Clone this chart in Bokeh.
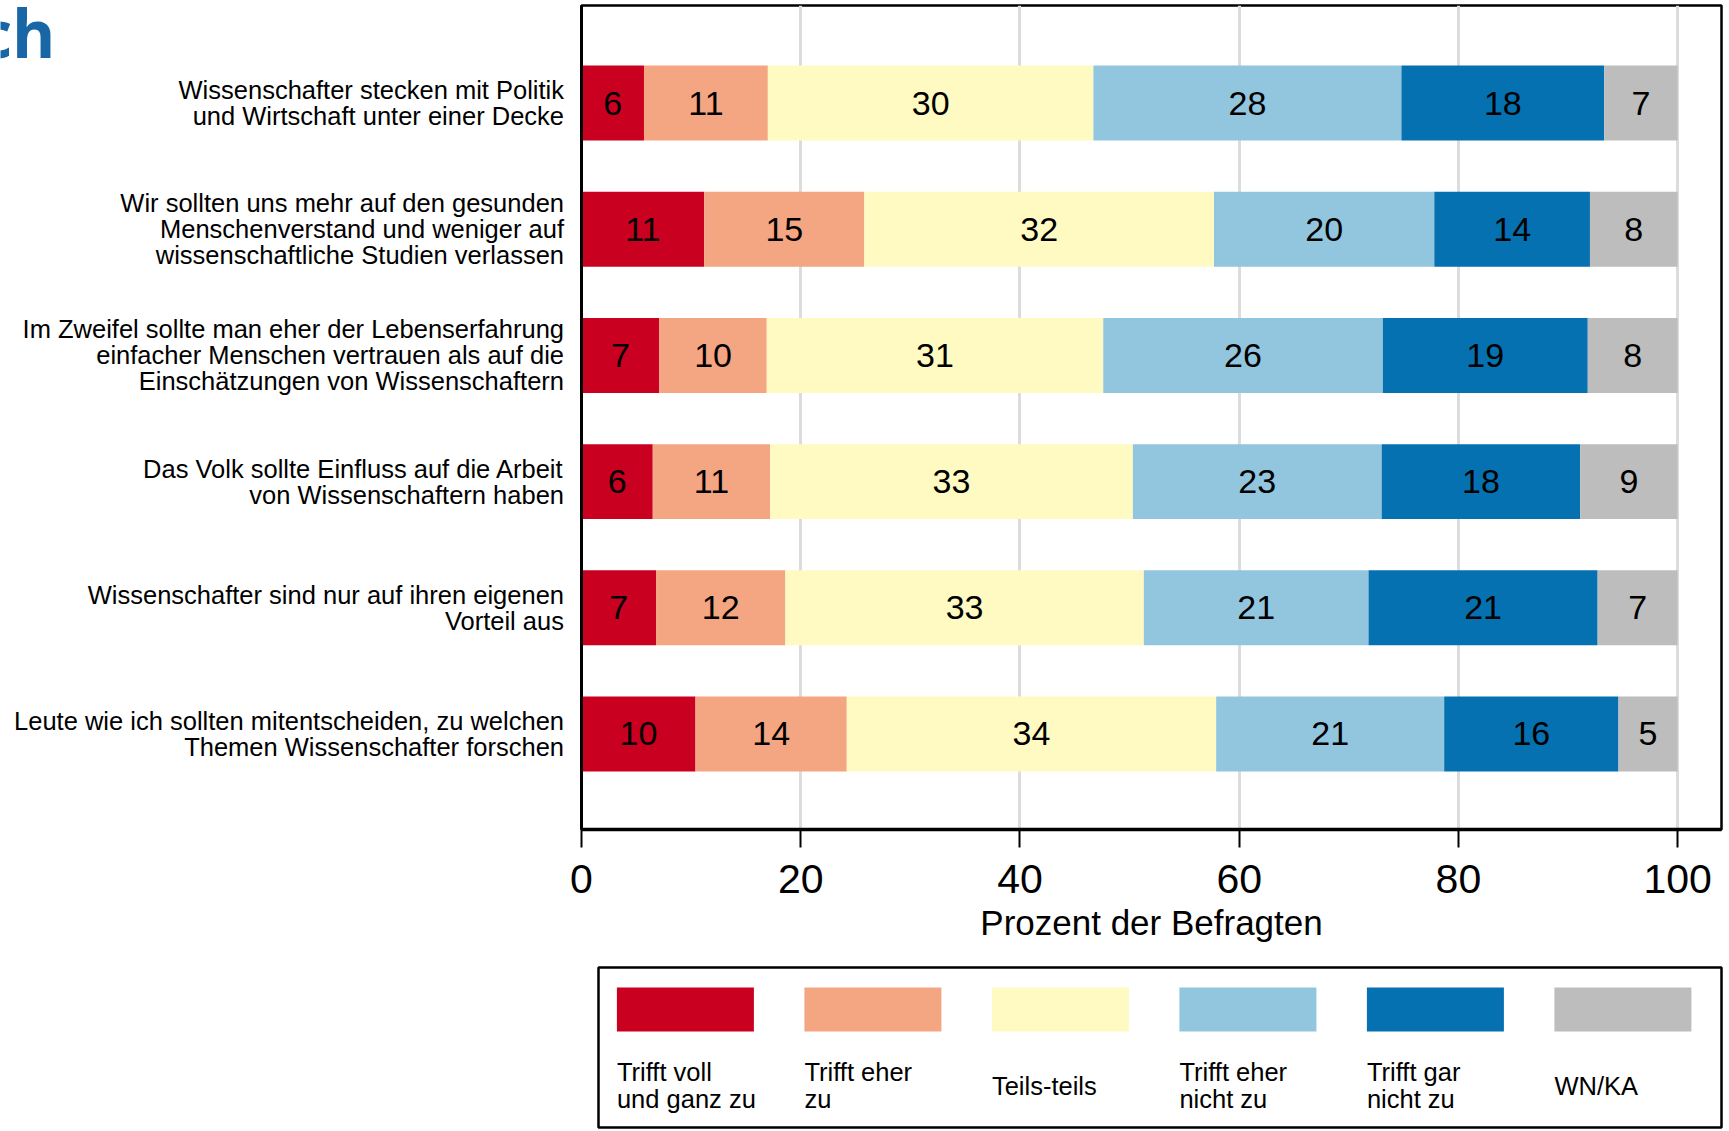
from bokeh.plotting import figure
from bokeh.models import Range1d, FixedTicker, ColumnDataSource
from bokeh.layouts import column, row
from bokeh.embed import file_html
from bokeh.resources import INLINE
from bokeh.core.properties import value
import numpy as np

# ---------------- data ----------------
statements = [
    "Wissenschafter stecken mit Politik\nund Wirtschaft unter einer Decke",
    "Wir sollten uns mehr auf den gesunden\nMenschenverstand und weniger auf\nwissenschaftliche Studien verlassen",
    "Im Zweifel sollte man eher der Lebenserfahrung\neinfacher Menschen vertrauen als auf die\nEinschätzungen von Wissenschaftern",
    "Das Volk sollte Einfluss auf die Arbeit\nvon Wissenschaftern haben",
    "Wissenschafter sind nur auf ihren eigenen\nVorteil aus",
    "Leute wie ich sollten mitentscheiden, zu welchen\nThemen Wissenschafter forschen",
]
categories = ["Trifft voll\nund ganz zu", "Trifft eher\nzu", "Teils-teils",
              "Trifft eher\nnicht zu", "Trifft gar\nnicht zu", "WN/KA"]
colors = ["#ca0020", "#f4a582", "#fffac2", "#92c5de", "#0571b0", "#bdbdbd"]

# segment widths (percent)
voll = [5.7, 11.2, 7.1, 6.5, 6.8, 10.4]
eher = [11.3, 14.6, 9.8, 10.7, 11.8, 13.8]
teils = [29.7, 31.9, 30.7, 33.1, 32.7, 33.7]
eher_nicht = [28.1, 20.1, 25.5, 22.7, 20.5, 20.8]
gar_nicht = [18.5, 14.2, 18.7, 18.1, 20.9, 15.9]
wnka = [6.7, 8.0, 8.2, 8.9, 7.3, 5.4]

# printed labels
voll_lbl = [6, 11, 7, 6, 7, 10]
eher_lbl = [11, 15, 10, 11, 12, 14]
teils_lbl = [30, 32, 31, 33, 33, 34]
eher_nicht_lbl = [28, 20, 26, 23, 21, 21]
gar_nicht_lbl = [18, 14, 19, 18, 21, 16]
wnka_lbl = [7, 8, 8, 9, 7, 5]

x_ticks = [0, 20, 40, 60, 80, 100]
x_title = "Prozent der Befragten"
corner_text = "ch"

series = [voll, eher, teils, eher_nicht, gar_nicht, wnka]
series_lbl = [voll_lbl, eher_lbl, teils_lbl, eher_nicht_lbl, gar_nicht_lbl, wnka_lbl]

FONT = "Liberation Sans"
rows = np.arange(1, len(statements) + 1)

# shared vertical scale
y_rng = Range1d(6.757, 0.227)
TOP, MAIN_H = 5, 955
BOTTOM = MAIN_H - 829
LEFT_W = 566

# ---------------- left panel: statement labels + corner text ----------------
lp = figure(width=LEFT_W, height=MAIN_H, output_backend="svg", toolbar_location=None,
            x_range=Range1d(0, LEFT_W), y_range=y_rng,
            min_border_left=0, min_border_right=0, min_border_top=TOP,
            min_border_bottom=BOTTOM)
lp.axis.visible = False
lp.grid.visible = False
lp.outline_line_color = None
lp.text(x=[LEFT_W - 2.5] * len(rows), y=rows, text=statements,
        text_align="right", text_baseline="middle", text_font=value(FONT),
        text_font_size=value("25.5px"), text_line_height=0.93, text_color="black")
lp.text(x=[55], y=[0.227 + 27 / 126.2], text=[corner_text], text_align="right",
        text_baseline="alphabetic", text_font=value("Open Sans"),
        text_font_style="bold", text_font_size=value("66px"), text_color="#1866a6")

# ---------------- main chart ----------------
p = figure(width=1728 - LEFT_W, height=MAIN_H, output_backend="svg", toolbar_location=None,
           x_range=Range1d(0, 104), y_range=y_rng,
           min_border_left=15, min_border_right=7, min_border_top=TOP,
           min_border_bottom=BOTTOM)

vals = np.array(series)
rights = np.cumsum(vals, axis=0)
lefts = rights - vals
for k in range(len(series)):
    src = ColumnDataSource(dict(y=rows, left=lefts[k], right=rights[k],
                                xc=(lefts[k] + rights[k]) / 2,
                                lbl=[str(v) for v in series_lbl[k]]))
    p.hbar(y="y", left="left", right="right", height=0.594, source=src,
           fill_color=colors[k], line_color=None)
    p.text(x="xc", y="y", text="lbl", source=src, text_align="center",
           text_baseline="middle", text_font=value(FONT),
           text_font_size=value("34px"), text_color="black")

p.outline_line_color = "black"
p.outline_line_width = 2.5
p.ygrid.visible = False
p.xgrid.ticker = FixedTicker(ticks=x_ticks)
p.xgrid.grid_line_color = "#dcdcdc"
p.xgrid.grid_line_width = 3

xa = p.xaxis[0]
xa.ticker = FixedTicker(ticks=x_ticks)
xa.axis_line_width = 3.5
xa.major_tick_out = 18
xa.major_tick_in = 0
xa.major_tick_line_width = 2
xa.minor_tick_line_color = None
xa.major_label_text_font = FONT
xa.major_label_text_font_size = "41px"
xa.major_label_text_color = "black"
xa.major_label_standoff = 17
xa.axis_label = x_title
xa.axis_label_text_font = FONT
xa.axis_label_text_font_size = "35px"
xa.axis_label_text_font_style = "normal"
xa.axis_label_text_color = "black"
xa.axis_label_standoff = 7

ya = p.yaxis[0]
ya.ticker = FixedTicker(ticks=[])
ya.axis_line_width = 3
ya.major_tick_out = 0
ya.major_tick_in = 0
ya.minor_tick_line_color = None
ya.major_label_text_font_size = "0px"

# ---------------- legend (separate panel) ----------------
LW, LH = 1123, 160
leg = figure(width=1728, height=175, output_backend="svg", toolbar_location=None,
             x_range=Range1d(0, LW), y_range=Range1d(0, LH),
             min_border_left=598, min_border_right=7, min_border_top=12,
             min_border_bottom=3)
leg.axis.visible = False
leg.grid.visible = False
leg.outline_line_color = "black"
leg.outline_line_width = 2.5

idx = np.arange(len(categories))
sw_left = 18.4 + idx * 187.5
leg.quad(left=sw_left, right=sw_left + 137, bottom=96, top=140,
         fill_color=colors, line_color=None)
tx, ty, tt = [], [], []
for i, c in enumerate(categories):
    parts = c.split("\n")
    ys = [56, 29] if len(parts) == 2 else [42]
    for part, yy in zip(parts, ys):
        tx.append(sw_left[i]); ty.append(yy); tt.append(part)
leg.text(x=tx, y=ty, text=tt, text_align="left", text_baseline="middle",
         text_font=value(FONT), text_font_size=value("25.5px"), text_color="black")

layout = column(row(lp, p), leg)
open("out.html", "w").write(file_html(layout, INLINE))
